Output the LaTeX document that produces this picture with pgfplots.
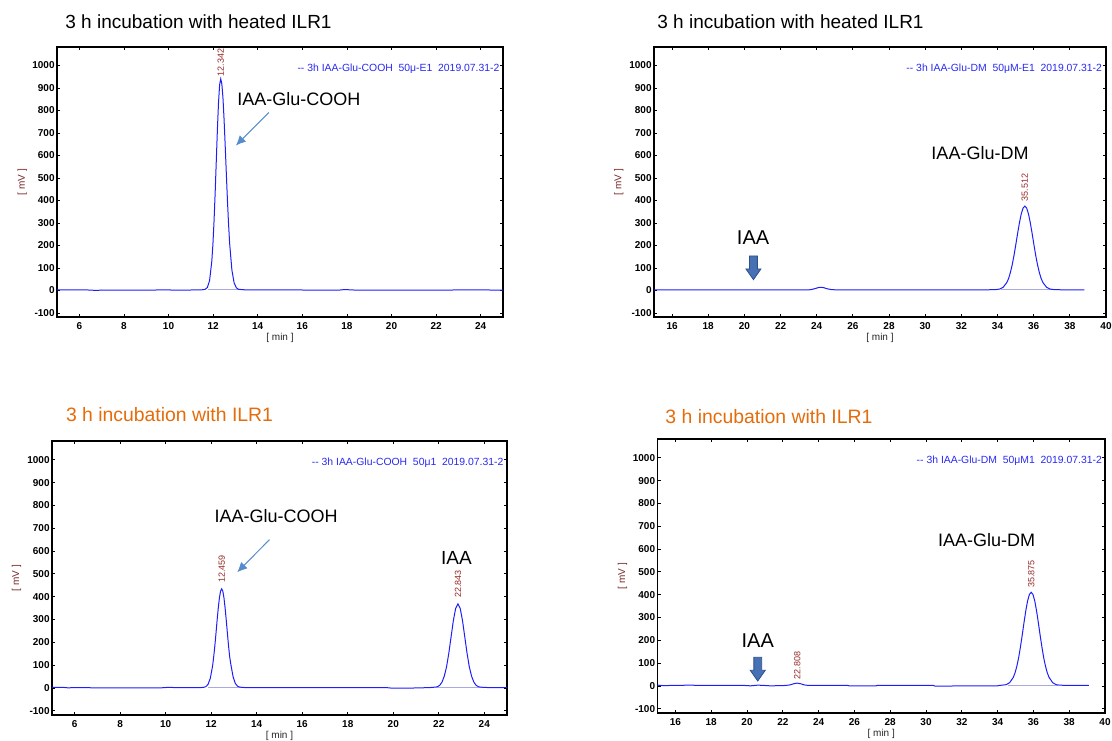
\documentclass[border=0pt]{standalone}
\usepackage{fontspec}
\setmainfont{Liberation Sans}
\usepackage{pgfplots}
\pgfplotsset{compat=1.18}
\usetikzlibrary{arrows.meta}

\definecolor{lineblue}{RGB}{30,30,250}
\definecolor{legblue}{RGB}{40,40,245}
\definecolor{peakred}{RGB}{150,40,40}
\definecolor{labred}{RGB}{120,40,40}
\definecolor{ttlorange}{RGB}{228,108,10}
\definecolor{arrblue}{RGB}{85,140,205}
\definecolor{blockfill}{RGB}{70,114,180}
\definecolor{blockdraw}{RGB}{45,80,140}
\definecolor{intline}{RGB}{170,170,225}

\pgfplotsset{
  chrom/.style={
    scale only axis, anchor=south west,
    ymin=-118, ymax=1082,
    ytick={-100,0,100,200,300,400,500,600,700,800,900,1000},
    axis line style={line width=0.9pt},
    major tick length=1.6pt,
    tick style={black, line width=0.4pt},
    ticklabel style={font=\fontsize{5}{6}\selectfont\bfseries},
    /pgf/number format/assume math mode=true,
    /pgf/number format/1000 sep={},
    yticklabel style={inner sep=1pt},
    xticklabel style={inner sep=1pt, yshift=-1.5pt},
    clip=false,
  },
  leftchrom/.style={chrom, xmin=5, xmax=25, xtick={6,8,10,12,14,16,18,20,22,24}},
  rightchrom/.style={chrom, xmin=15, xmax=40, xtick={16,18,20,22,24,26,28,30,32,34,36,38,40}},
  sig/.style={lineblue, line width=0.5pt, mark=none},
  intb/.style={intline, line width=0.4pt, mark=none},
}

\newcommand{\axlabels}{%
  \node[rotate=90, font=\fontsize{5}{6}\selectfont, text=labred] at (rel axis cs:-0.078,0.5) {[ mV ]};
  \node[font=\fontsize{5}{6}\selectfont, text=black!85] at (rel axis cs:0.5,-0.078) {[ min ]};
}
\newcommand{\plabel}[3]{\node[rotate=90, anchor=west, inner sep=1pt, font=\fontsize{4.5}{5}\selectfont, text=peakred] at (axis cs:#1,#2) {#3};}
\newcommand{\legtext}[3]{\node[anchor=east, inner sep=0pt, font=\fontsize{5.2}{6}\selectfont, text=legblue] at (axis cs:#1,#2) {#3};}
\newcommand{\blockarrow}[2]{\draw[blockdraw, fill=blockfill, line width=0.4pt] (axis cs:#1,#2) -- ++(-3.75pt,5.35pt) -- ++(1.8pt,0pt) -- ++(0pt,6.5pt) -- ++(3.9pt,0pt) -- ++(0pt,-6.5pt) -- ++(1.8pt,0pt) -- cycle;}

\begin{document}
\begin{tikzpicture}
\path[use as bounding box] (0,0) rectangle (556pt,370pt);

% ---------- titles ----------
\node[anchor=base west, inner sep=0pt, font=\fontsize{9.5}{11}\selectfont] at (32.5pt,355.5pt) {3 h incubation with heated ILR1};
\node[anchor=base west, inner sep=0pt, font=\fontsize{9.5}{11}\selectfont] at (328.5pt,355.5pt) {3 h incubation with heated ILR1};
\node[anchor=base west, inner sep=0pt, font=\fontsize{9.7}{11}\selectfont, text=ttlorange] at (32.8pt,159.3pt) {3 h incubation with ILR1};
\node[anchor=base west, inner sep=0pt, font=\fontsize{9.7}{11}\selectfont, text=ttlorange] at (332.5pt,158.5pt) {3 h incubation with ILR1};

% ---------- top left ----------
\begin{axis}[leftchrom, at={(28.5pt,211.5pt)}, width=223pt, height=135pt]
\addplot[intb] coordinates {(11.75,3) (13.35,3)};
\addplot[sig] coordinates {
(5,3) (6.4,2) (6.8,0) (7.0,2) (9.0,1) (9.9,3) (10.3,1) (11.0,2) (11.5,3)
(11.642,5) (11.742,13) (11.842,44) (11.942,130) (11.992,206) (12.042,308)
(12.092,433) (12.142,573) (12.192,713) (12.242,833) (12.292,914) (12.342,940)
(12.392,918) (12.442,856) (12.492,760) (12.542,645) (12.592,522) (12.642,403)
(12.692,297) (12.742,209) (12.842,91) (12.942,34) (13.042,12) (13.142,5)
(13.4,3) (14,2) (16,2) (17.6,1) (17.9,4) (18.3,2) (20,1) (22,1) (23.5,3)
(24,3) (24.4,2) (25,1)};
\axlabels
\plabel{12.342}{942}{12.342}
\legtext{24.86}{985}{-{}- 3h IAA-Glu-COOH\ \ 50μ-E1\ \ 2019.07.31-2}
\node[font=\fontsize{9}{10}\selectfont] at (axis cs:15.85,850) {IAA-Glu-COOH};
\draw[arrblue, line width=0.5pt, -{Latex[length=5pt,width=4.5pt]}] (axis cs:14.5,791) -- (axis cs:13.02,644);
\end{axis}

% ---------- top right ----------
\begin{axis}[rightchrom, at={(327pt,211.5pt)}, width=226pt, height=135pt]
\addplot[intb] coordinates {(34.2,3) (37.0,3)};
\addplot[sig] coordinates {
(15,3) (18,3) (21,3) (23.6,3) (23.7,4) (23.9,8) (24.1,13) (24.25,14) (24.4,12)
(24.6,7) (24.8,4) (25,3) (28,3) (31,3) (33.5,3)
(33.912,4) (34.112,6) (34.312,14) (34.512,35) (34.612,53) (34.712,80)
(34.812,114) (34.912,156) (35.012,204) (35.112,254) (35.212,301) (35.312,340)
(35.412,366) (35.512,375) (35.612,366) (35.712,340) (35.812,301) (35.912,254)
(36.012,204) (36.112,156) (36.212,114) (36.312,80) (36.412,53) (36.512,35)
(36.712,14) (36.912,6) (37.112,4) (37.5,3) (38.8,3)};
\axlabels
\plabel{35.512}{385}{35.512}
\legtext{39.8}{985}{-{}- 3h IAA-Glu-DM\ \ 50μM-E1\ \ 2019.07.31-2}
\node[font=\fontsize{9}{10}\selectfont] at (axis cs:33.03,612) {IAA-Glu-DM};
\node[font=\fontsize{10}{11}\selectfont] at (axis cs:20.48,236) {IAA};
\blockarrow{20.5}{48}
\end{axis}

% ---------- bottom left ----------
\begin{axis}[leftchrom, at={(26pt,12.5pt)}, width=227.5pt, height=137pt]
\addplot[intb] coordinates {(11.85,2) (13.35,2)};
\addplot[intb] coordinates {(21.9,2) (23.95,2)};
\addplot[sig] coordinates {
(5,3) (5.5,3) (5.7,1) (6,2) (7.1,1) (9.8,1) (10.1,3) (10.5,2) (11.5,2)
(11.659,3) (11.759,6) (11.859,16) (11.959,43) (12.059,97) (12.109,138)
(12.159,186) (12.209,241) (12.259,298) (12.309,351) (12.359,395) (12.409,424)
(12.459,434) (12.509,424) (12.559,395) (12.609,351) (12.659,298) (12.709,241)
(12.759,186) (12.809,138) (12.859,105) (12.959,50) (13.059,20) (13.159,8)
(13.259,4) (13.5,2) (15,2) (19.7,2) (19.9,0) (20.8,0) (21.2,1) (21.6,2)
(21.843,4) (21.943,6) (22.043,12) (22.143,26) (22.243,52) (22.343,93)
(22.443,153) (22.543,225) (22.643,296) (22.743,349) (22.843,369) (22.943,349)
(23.043,296) (23.143,225) (23.243,153) (23.343,93) (23.443,52) (23.543,26)
(23.643,12) (23.743,6) (23.843,4) (24.2,2) (25,2)};
\axlabels
\plabel{12.459}{450}{12.459}
\plabel{22.843}{385}{22.843}
\legtext{24.86}{988}{-{}- 3h IAA-Glu-COOH\ \ 50μ1\ \ 2019.07.31-2}
\node[font=\fontsize{9}{10}\selectfont] at (axis cs:14.85,755) {IAA-Glu-COOH};
\node[font=\fontsize{9.5}{10}\selectfont] at (axis cs:22.78,569) {IAA};
\draw[arrblue, line width=0.5pt, -{Latex[length=5pt,width=4.5pt]}] (axis cs:14.56,650) -- (axis cs:13.14,507);
\end{axis}

% ---------- bottom right ----------
\begin{axis}[rightchrom, at={(328.75pt,13.5pt)}, width=223.75pt, height=137pt]
\addplot[intb] coordinates {(34.6,3) (37.4,3)};
\addplot[sig] coordinates {
(15,4) (15.3,2) (16.0,3) (16.9,4) (17.2,3) (19.8,3) (20.2,1) (20.6,4) (20.9,3)
(21.3,1) (22,2) (22.2,3) (22.4,5) (22.6,10) (22.8,13) (23.0,10) (23.2,5)
(23.4,3) (23.8,3) (25.6,3) (25.7,1) (27.2,1) (27.3,3) (30.4,3) (30.5,0)
(34,1) (34.1,3)
(34.275,4) (34.475,6) (34.675,15) (34.875,38) (34.975,58) (35.075,87)
(35.175,124) (35.275,171) (35.375,223) (35.475,278) (35.575,330) (35.675,373)
(35.775,401) (35.875,411) (35.975,401) (36.075,373) (36.175,330) (36.275,278)
(36.375,223) (36.475,171) (36.575,124) (36.675,87) (36.775,58) (36.875,38)
(37.075,15) (37.275,6) (37.475,4) (37.8,3) (39.1,3)};
\axlabels
\plabel{35.875}{420}{35.875}
\plabel{22.808}{20}{22.808}
\legtext{39.85}{987}{-{}- 3h IAA-Glu-DM\ \ 50μM1\ \ 2019.07.31-2}
\node[font=\fontsize{9}{10}\selectfont] at (axis cs:33.38,640) {IAA-Glu-DM};
\node[font=\fontsize{10}{11}\selectfont] at (axis cs:20.6,201) {IAA};
\blockarrow{20.6}{22}
\end{axis}
\end{tikzpicture}
\end{document}
